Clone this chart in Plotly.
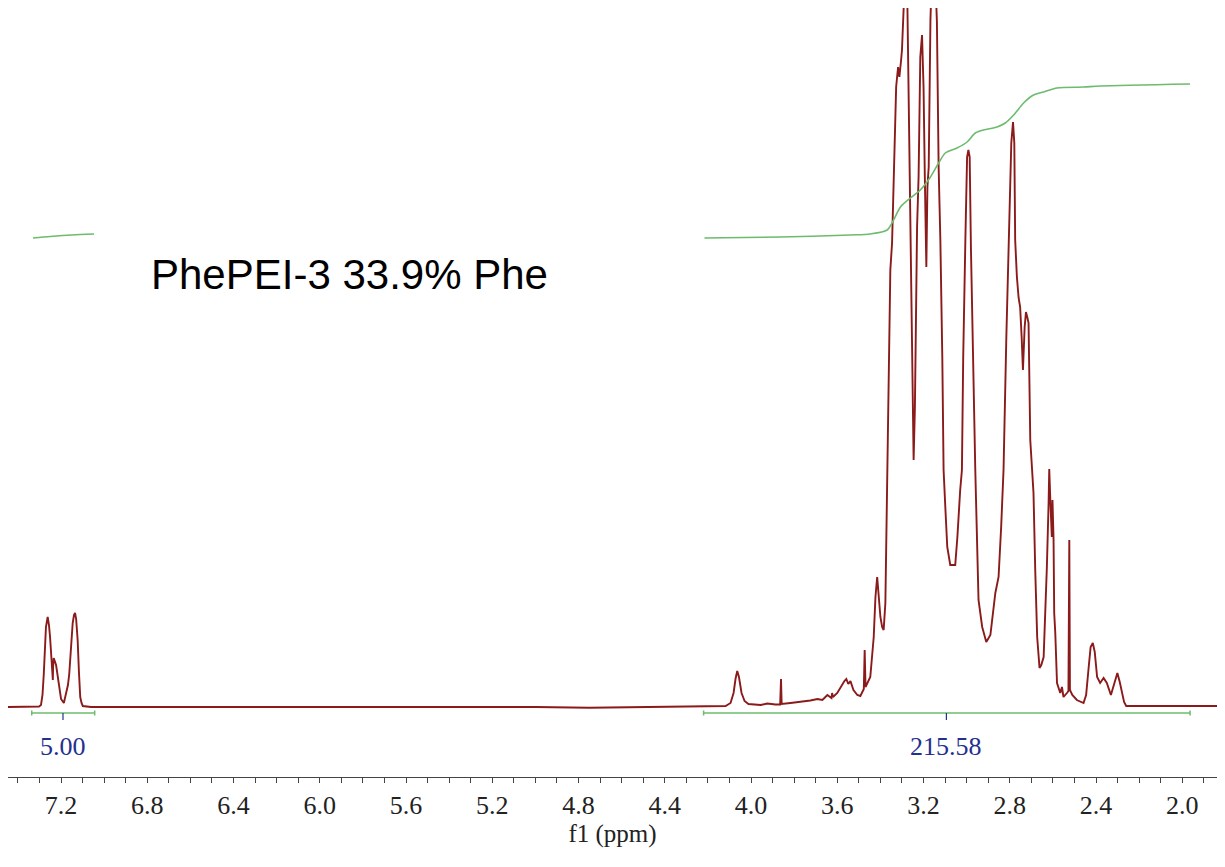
import plotly.graph_objects as go

# ---------------- data ----------------
# 1H NMR spectrum, chemical shift (ppm) and intensity (arbitrary units)
ppm = [7.446, 7.339, 7.302, 7.293, 7.286, 7.280, 7.274, 7.270, 7.262, 7.256,
       7.251, 7.243, 7.240, 7.238, 7.237, 7.234, 7.223, 7.214, 7.208, 7.200,
       7.187, 7.177, 7.168, 7.162, 7.154, 7.146, 7.140, 7.135, 7.130, 7.123,
       7.117, 7.111, 7.105, 7.099, 7.061,
       7.0, 6.5, 6.0, 5.5, 5.0, 4.75, 4.5, 4.3,
       4.118, 4.095, 4.081, 4.072, 4.064, 4.056, 4.044, 4.030, 4.012, 3.956,
       3.925, 3.887, 3.865, 3.861, 3.858, 3.817, 3.771, 3.725, 3.692, 3.669,
       3.646, 3.627, 3.624, 3.620, 3.600, 3.581, 3.567, 3.558, 3.549, 3.539,
       3.525, 3.507, 3.493, 3.477, 3.473, 3.469, 3.456, 3.447, 3.431, 3.423,
       3.415, 3.408, 3.400, 3.392, 3.385, 3.377,
       3.369, 3.361, 3.354, 3.346, 3.341, 3.335, 3.327, 3.318, 3.312, 3.304,
       3.300, 3.292, 3.284, 3.276, 3.270, 3.261, 3.252, 3.246, 3.240, 3.230,
       3.223, 3.215, 3.207, 3.200, 3.194, 3.187, 3.182, 3.176, 3.168, 3.159,
       3.150, 3.143, 3.138, 3.130, 3.122, 3.113, 3.107, 3.099, 3.090, 3.076,
       3.053, 3.043, 3.037, 3.030, 3.022, 3.016, 3.006, 2.998, 2.992, 2.986,
       2.980, 2.969, 2.960, 2.945, 2.928, 2.909, 2.890, 2.867, 2.852, 2.840,
       2.829, 2.816, 2.806, 2.793, 2.785, 2.779, 2.775, 2.767, 2.759, 2.752,
       2.745, 2.739, 2.731, 2.725, 2.719, 2.713, 2.705, 2.697, 2.690, 2.682,
       2.673, 2.662, 2.654, 2.643, 2.636, 2.628, 2.620, 2.617, 2.612, 2.608,
       2.605, 2.602, 2.597, 2.594, 2.589, 2.581, 2.566, 2.558, 2.551, 2.535,
       2.528, 2.524, 2.521, 2.510, 2.489, 2.458, 2.446, 2.434, 2.425, 2.415,
       2.406, 2.395, 2.381, 2.365, 2.350, 2.331, 2.316, 2.301, 2.290, 2.280,
       2.270, 2.260, 1.839]

intensity = [0, 0, 0.5, 2, 12, 33, 62, 80, 90, 82,
             70, 49, 40, 27, 40, 49, 42, 28, 17, 8,
             4, 12, 22, 33, 62, 84, 92, 94, 88, 67,
             35, 10, 4, 1, 0,
             0, 0, 0, 0.3, 0, -0.8, -0.3, 0,
             1, 4, 14, 28, 36, 30, 14, 6, 3, 2,
             3.5, 2.5, 2.5, 28, 3, 4, 5, 6.5, 8, 7,
             12, 9, 14, 10, 14, 21, 26, 28, 23, 26,
             17, 12, 11, 18, 57, 20, 26, 30, 70, 110,
             130, 109, 90, 80, 77, 104,
             230, 350, 437, 464, 507, 560, 620, 640, 630, 647,
             657, 700, 740, 720, 620, 470, 300, 247, 300, 480,
             530, 650, 672, 620, 530, 440, 520, 540, 687, 750,
             760, 720, 685, 540, 467, 350, 237, 200, 160, 142,
             142, 170, 194, 217, 237, 350, 467, 550, 557, 550,
             457, 330, 237, 107, 80, 65, 72, 114, 130, 180,
             237, 370, 457, 564, 585, 564, 467, 430, 409, 400,
             370, 337, 380, 395, 390, 384, 267, 237, 214, 137,
             70, 39, 42, 50, 90, 140, 204, 238, 207, 185,
             170, 207, 167, 94, 74, 24, 14, 20, 10, 14,
             16, 167, 17, 12, 7, 4, 12, 40, 60, 64,
             55, 30, 24, 29, 24, 12, 22, 34, 25, 14,
             5, 1, 1]

# integral curves
int1_ppm = [7.330, 7.250, 7.150, 7.047]
int1_val = [469, 470.5, 472, 473]

int2_ppm = [4.216, 3.864, 3.539, 3.447, 3.369, 3.339, 3.307, 3.261, 3.215, 3.168,
            3.130, 3.099, 3.045, 2.998, 2.960, 2.922, 2.859, 2.821, 2.782, 2.736,
            2.690, 2.643, 2.581, 2.458, 2.381, 1.964]
int2_val = [469, 470, 472, 473, 477, 487, 500, 509, 517, 530,
            544, 554, 559, 565, 574, 577, 580, 584, 592, 604,
            612, 615, 619, 620, 621, 623]

# integration regions: start ppm, end ppm, label ppm, label
region_start = [7.336, 4.220]
region_end = [7.044, 1.964]
region_mark = [7.191, 3.094]
region_label = ["5.00", "215.58"]

tick_vals = [7.2, 6.8, 6.4, 6.0, 5.6, 5.2, 4.8, 4.4, 4.0, 3.6, 3.2, 2.8, 2.4, 2.0]

# ---------------- styling ----------------
RED = "#8b1a1a"
GREEN = "#6dbb6d"
BLUE = "#24308f"
BAR_Y = -6
CAP = 2.5

fig = go.Figure()

fig.add_trace(go.Scatter(x=ppm, y=intensity, mode="lines",
                         line=dict(color=RED, width=1.9), hoverinfo="skip",
                         showlegend=False))

for xs, ys in [(int1_ppm, int1_val), (int2_ppm, int2_val)]:
    fig.add_trace(go.Scatter(x=xs, y=ys, mode="lines",
                             line=dict(color=GREEN, width=1.6, shape="spline",
                                       smoothing=0.8),
                             hoverinfo="skip", showlegend=False))

for s, e, m, lab in zip(region_start, region_end, region_mark, region_label):
    fig.add_trace(go.Scatter(
        x=[s, e, None, s, s, None, e, e],
        y=[BAR_Y, BAR_Y, None, BAR_Y - CAP, BAR_Y + CAP, None, BAR_Y - CAP, BAR_Y + CAP],
        mode="lines", line=dict(color=GREEN, width=1.5), hoverinfo="skip",
        showlegend=False))
    fig.add_trace(go.Scatter(x=[m, m], y=[BAR_Y, BAR_Y - 7], mode="lines",
                             line=dict(color=BLUE, width=1.2), hoverinfo="skip",
                             showlegend=False))
    fig.add_annotation(x=m, y=-39, text=lab, showarrow=False,
                       font=dict(family="Liberation Serif", size=26, color=BLUE),
                       xanchor="center", yanchor="middle")

fig.add_annotation(x=6.792, y=433, text="PhePEI-3 33.9% Phe", showarrow=False,
                   xanchor="left", yanchor="middle",
                   font=dict(family="Liberation Sans", size=42, color="black"))

# the page adds an 8 px body margin, so the figure is sized to fit the window
fig.update_layout(
    width=1217, height=859,
    margin=dict(l=0, r=8, t=0, b=90),
    plot_bgcolor="white", paper_bgcolor="white",
    xaxis=dict(
        range=[7.446, 1.839],
        tickmode="array", tickvals=tick_vals,
        ticktext=[f"{v:.1f}" for v in tick_vals],
        ticks="outside", ticklen=5, tickwidth=1, tickcolor="#444",
        minor=dict(tickmode="linear", tick0=2.0, dtick=0.1, ticks="outside",
                   ticklen=5, tickwidth=1, tickcolor="#444", showgrid=False),
        showline=True, linecolor="#444", linewidth=1,
        showgrid=False, zeroline=False,
        tickfont=dict(family="Liberation Serif", size=26, color="#222"),
        title=dict(text="f1 (ppm)", standoff=0,
                   font=dict(family="Liberation Serif", size=25, color="#222")),
    ),
    yaxis=dict(visible=False, range=[-70, 699]),
)

fig.write_html("out.html")
